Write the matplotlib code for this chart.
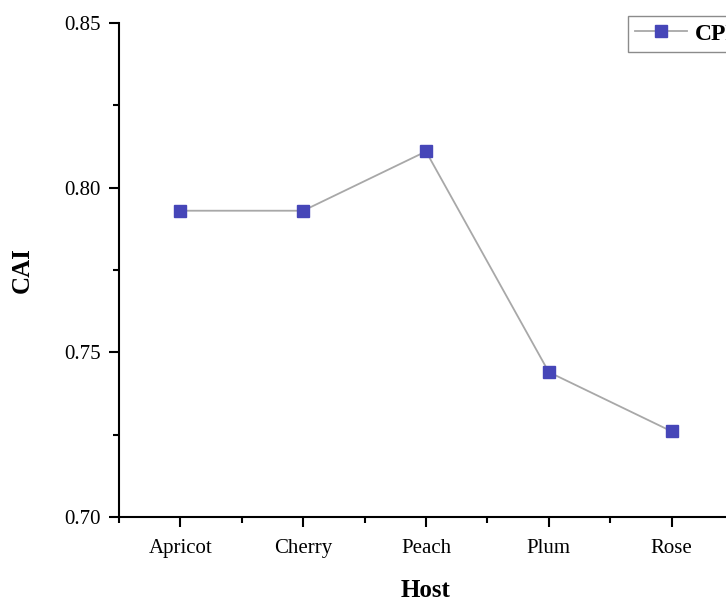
import matplotlib.pyplot as plt
from matplotlib.ticker import MultipleLocator, AutoMinorLocator

hosts = ['Apricot', 'Cherry', 'Peach', 'Plum', 'Rose']
cai = [0.793, 0.793, 0.811, 0.744, 0.726]

plt.rcParams['font.family'] = ['Liberation Serif', 'DejaVu Serif']

fig = plt.figure(figsize=(7.26, 6.04), dpi=100)
ax = fig.add_axes([119 / 726, 87 / 604, 614 / 726, 494 / 604])

x = list(range(len(hosts)))
ax.plot(x, cai, color='#a8a8a8', linewidth=1.3, marker='s', markersize=8,
        markerfacecolor='#4646b8', markeredgecolor='#4646b8', label='CPB')

ax.set_xlim(-0.5, 4.5)
ax.set_ylim(0.70, 0.85)
ax.set_xticks(x)
ax.set_xticklabels(hosts)
ax.xaxis.set_minor_locator(MultipleLocator(0.5))
ax.yaxis.set_major_locator(MultipleLocator(0.05))
ax.yaxis.set_minor_locator(AutoMinorLocator(2))
ax.yaxis.set_major_formatter(plt.FormatStrFormatter('%.2f'))

for s in ['top', 'right']:
    ax.spines[s].set_visible(False)
for s in ['left', 'bottom']:
    ax.spines[s].set_linewidth(1.5)

ax.tick_params(which='major', direction='out', length=7, width=1.5, labelsize=15)
ax.tick_params(axis='x', which='major', pad=9)
ax.tick_params(axis='y', which='major', pad=6)
ax.tick_params(which='minor', direction='out', length=4, width=1.5)

ax.set_xlabel('Host', fontsize=18, fontweight='bold', labelpad=15)
ax.set_ylabel('CAI', fontsize=18, fontweight='bold', labelpad=22)

leg = fig.legend(loc='upper left', bbox_to_anchor=(628 / 726, 1 - 16 / 604),
                 borderaxespad=0, fancybox=False, edgecolor='#6e6e6e',
                 prop={'weight': 'bold', 'size': 17}, handlelength=2.2,
                 handletextpad=0.35, borderpad=0.3)
leg.get_frame().set_linewidth(1.0)

fig.savefig('out.png', dpi=100)
